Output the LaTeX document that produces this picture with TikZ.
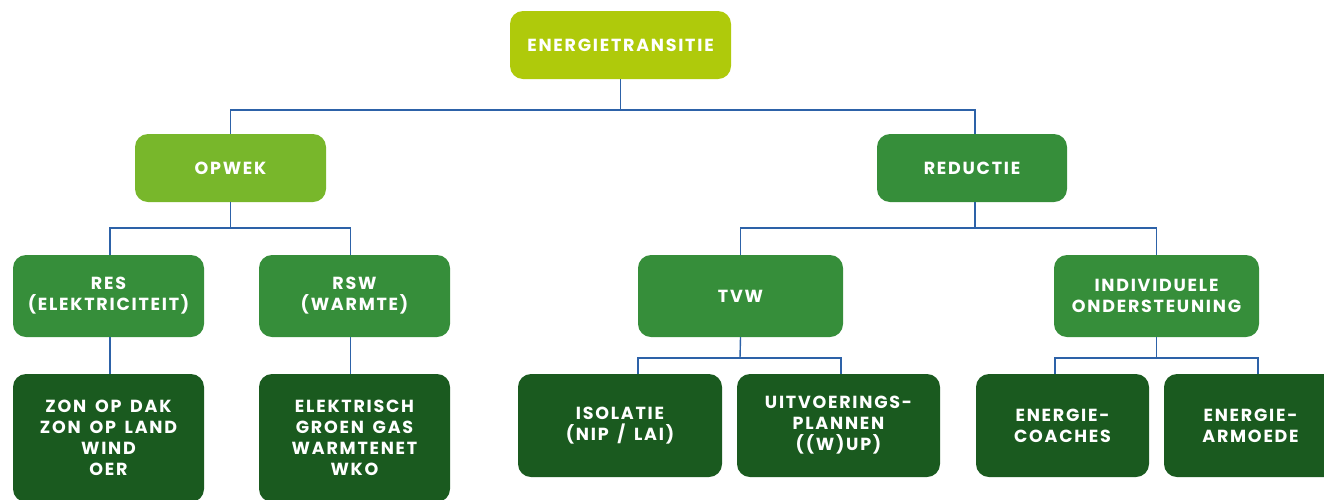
\documentclass[tikz,border=0pt]{standalone}
\usepackage{fontspec}
\newfontfamily\popfont{Poppins}[BoldFont={Poppins Bold}, LetterSpace=10, WordSpace=1.6]
\definecolor{lime}{HTML}{AFCA0B}
\definecolor{grass}{HTML}{78B72B}
\definecolor{midgreen}{HTML}{368E3A}
\definecolor{darkgreen}{HTML}{1A5A1F}
\definecolor{linkblue}{HTML}{2D62A8}
\begin{document}
\begin{tikzpicture}[x=1pt,y=-1pt,
  box/.style={rounded corners=13pt, inner sep=0pt, align=center, text=white,
    font=\popfont\bfseries\fontsize{17.5}{21}\selectfont},
  conn/.style={draw=linkblue, line width=1.4pt}]
\useasboundingbox (0,0) rectangle (1324,499);
% boxes: centre, width, height
\node[box, fill=lime, minimum width=221pt, minimum height=68pt] (et) at (620.5,45) {ENERGIETRANSITIE};
\node[box, fill=grass, minimum width=191pt, minimum height=68pt] (opwek) at (230.5,168) {OPWEK};
\node[box, fill=midgreen, minimum width=190pt, minimum height=68pt] (red) at (972,168) {REDUCTIE};
\node[box, fill=midgreen, minimum width=191pt, minimum height=82pt] (res) at (108.5,296) {RES\\(ELEKTRICITEIT)};
\node[box, fill=midgreen, minimum width=191pt, minimum height=82pt] (rsw) at (354.5,296) {RSW\\(WARMTE)};
\node[box, fill=midgreen, minimum width=205pt, minimum height=82pt] (tvw) at (740.5,296) {TVW};
\node[box, fill=midgreen, minimum width=205pt, minimum height=82pt] (ind) at (1156.5,296) {INDIVIDUELE\\ONDERSTEUNING};
\node[box, fill=darkgreen, minimum width=191pt, minimum height=128pt] (zon) at (108.5,438) {ZON OP DAK\\ZON OP LAND\\WIND\\OER};
\node[box, fill=darkgreen, minimum width=191pt, minimum height=128pt] (elek) at (354.5,438) {ELEKTRISCH\\GROEN GAS\\WARMTENET\\WKO};
\node[box, fill=darkgreen, minimum width=204pt, minimum height=103pt] (iso) at (620,425.5) {ISOLATIE\\(NIP / LAI)};
\node[box, fill=darkgreen, minimum width=203pt, minimum height=103pt] (uit) at (838.5,425.5) {UITVOERINGS-\\PLANNEN\\((W)UP)};
\node[box, fill=darkgreen, minimum width=173pt, minimum height=103pt] (coach) at (1062.5,425.5) {ENERGIE-\\COACHES};
\node[box, fill=darkgreen, minimum width=173pt, minimum height=103pt] (arm) at (1250.5,425.5) {ENERGIE-\\ARMOEDE};
% junctions
\coordinate (j0) at (620.5,110);
\coordinate (j1) at (230.5,228);
\coordinate (j2) at (975,228);
\coordinate (j3) at (740,358);
\coordinate (j4) at (1156.5,358);
% connectors
\draw[conn] (et.south) -- (j0);
\draw[conn] (j0) -| (opwek.north);
\draw[conn] (j0) -| ([xshift=3pt]red.north);
\draw[conn] (opwek.south) -- (j1);
\draw[conn] (j1) -| ([xshift=1.5pt]res.north);
\draw[conn] (j1) -| ([xshift=-4pt]rsw.north);
\draw[conn] ([xshift=1.5pt]res.south) -- ([xshift=1.5pt]res.south |- zon.north);
\draw[conn] ([xshift=-4pt]rsw.south) -- ([xshift=-4pt]rsw.south |- elek.north);
\draw[conn] ([xshift=3pt]red.south) -- (j2);
\draw[conn] (j2) -| (tvw.north);
\draw[conn] (j2) -| (ind.north);
\draw[conn] (tvw.south) -- (j3);
\draw[conn] (j3) -| ([xshift=18pt]iso.north);
\draw[conn] (j3) -| ([xshift=2.5pt]uit.north);
\draw[conn] (ind.south) -- (j4);
\draw[conn] (j4) -| ([xshift=-7.5pt]coach.north);
\draw[conn] (j4) -| ([xshift=7.5pt]arm.north);
\end{tikzpicture}
\end{document}
